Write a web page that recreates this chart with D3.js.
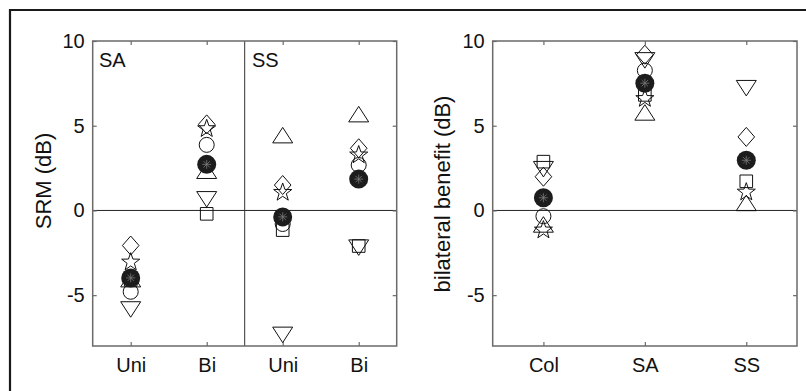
<!DOCTYPE html>
<html>
<head>
<meta charset="utf-8">
<script src="https://cdn.jsdelivr.net/npm/d3@7"></script>
<style>
  body { margin: 0; background: #fff; }
  text { font-family: "Liberation Sans", Arial, Helvetica, sans-serif; fill: #111; }
</style>
</head>
<body>
<script>

WIDTH = 806;
HEIGHT = 391;
TOP = 41;
BOTTOM = 346;
FRAME = "#6a6a6a";

// left panel: SRM, conditions SA-Uni, SA-Bi, SS-Uni, SS-Bi
var srmTicks = ["Uni", "Bi", "Uni", "Bi"];
var srmCircle   = [-4.8, 3.87, -0.8, 2.68];
var srmTriUp    = [-4.1, 2.3, 4.4, 5.64];
var srmTriDown  = [-5.8, 0.7, -7.3, -2.15];
var srmSquare   = [-4.1, -0.2, -1.16, -2.1];
var srmDiamond  = [-2.07, 5.08, 1.5, 3.67];
var srmStar     = [-3.05, 4.82, 1.06, 3.27];
var srmMean     = [-3.98, 2.72, -0.38, 1.85];

// right panel: bilateral benefit, conditions Col, SA, SS
var bbTicks = ["Col", "SA", "SS"];
var bbCircle   = [-0.34, 8.26, 2.96];
var bbTriUp    = [-0.87, 5.74, 0.4];
var bbTriDown  = [2.48, 8.9, 7.26];
var bbSquare   = [2.88, 6.82, 1.72];
var bbDiamond  = [1.99, 9.19, 4.34];
var bbStar     = [-1.16, 6.6, 1.08];
var bbMean     = [0.75, 7.51, 2.96];

var yTicks = [-5, 0, 5, 10];

function series(circle, triUp, triDown, square, diamond, star) {
    return [
        {shape: "circle", values: circle},
        {shape: "triUp", values: triUp},
        {shape: "triDown", values: triDown},
        {shape: "square", values: square},
        {shape: "diamond", values: diamond},
        {shape: "star", values: star}
    ];
}

function shapePath(shape) {
    var p = d3.path();
    if (shape == "circle") {
        p.arc(0, 0, 7.5, 0, 2 * Math.PI);
    } else if (shape == "triUp") {
        p.moveTo(0, -8.5); p.lineTo(10, 7); p.lineTo(-10, 7); p.closePath();
    } else if (shape == "triDown") {
        p.moveTo(0, 8.5); p.lineTo(10, -7); p.lineTo(-10, -7); p.closePath();
    } else if (shape == "square") {
        p.rect(-6.3, -6.3, 12.6, 12.6);
    } else if (shape == "diamond") {
        p.moveTo(0, -9.5); p.lineTo(8.3, 0); p.lineTo(0, 9.5); p.lineTo(-8.3, 0); p.closePath();
    } else if (shape == "star") {
        for (var i = 0; i < 10; i++) {
            var r = i % 2 ? 3.8 : 9.5;
            var a = -Math.PI / 2 + i * Math.PI / 5;
            if (i == 0) p.moveTo(r * Math.cos(a), r * Math.sin(a));
            else p.lineTo(r * Math.cos(a), r * Math.sin(a));
        }
        p.closePath();
    }
    return p.toString();
}

var svg = d3.select("body").append("svg")
    .attr("width", WIDTH)
    .attr("height", HEIGHT);

// figure frame (cropped: only top and left edges show)
svg.append("path")
    .attr("d", "M10,391V10H806")
    .attr("fill", "none")
    .attr("stroke", "#1a1a1a")
    .attr("stroke-width", 2.2);

var y = d3.scaleLinear()
    .domain([-8, 10])
    .range([BOTTOM, TOP]);

function panel(opts) {
    var x = d3.scaleLinear()
        .domain([0.5, opts.ticks.length + 0.5])
        .range([opts.left, opts.right]);

    var g = svg.append("g");

    // zero line
    g.append("line")
        .attr("x1", opts.left).attr("x2", opts.right)
        .attr("y1", y(0)).attr("y2", y(0))
        .attr("stroke", "#222").attr("stroke-width", 1);

    if (opts.divider) {
        g.append("line")
            .attr("x1", x(opts.divider)).attr("x2", x(opts.divider))
            .attr("y1", TOP).attr("y2", BOTTOM)
            .attr("stroke", "#333").attr("stroke-width", 1);
    }

    var xt = d3.range(1, opts.ticks.length + 1);

    g.append("g")
        .attr("transform", `translate(0,${BOTTOM})`)
        .call(d3.axisBottom(x).tickValues(xt).tickSizeInner(-4).tickSizeOuter(0).tickPadding(12)
            .tickFormat((d, i) => opts.ticks[i]));
    g.append("g")
        .attr("transform", `translate(0,${TOP})`)
        .call(d3.axisTop(x).tickValues(xt).tickSizeInner(-4).tickSizeOuter(0).tickFormat(""));
    g.append("g")
        .attr("transform", `translate(${opts.left},0)`)
        .call(d3.axisLeft(y).tickValues(yTicks).tickSizeInner(-4).tickSizeOuter(0).tickPadding(8)
            .tickFormat(d => String(d)));
    g.append("g")
        .attr("transform", `translate(${opts.right},0)`)
        .call(d3.axisRight(y).tickValues(yTicks).tickSizeInner(-4).tickSizeOuter(0).tickFormat(""));

    g.selectAll(".domain").remove();
    g.selectAll(".tick line").attr("stroke", FRAME).attr("stroke-width", 1.2);
    g.selectAll(".tick text")
        .attr("font-family", "Liberation Sans, Arial, sans-serif")
        .attr("font-size", 20)
        .attr("fill", "#111");

    g.append("rect")
        .attr("x", opts.left).attr("y", TOP)
        .attr("width", opts.right - opts.left).attr("height", BOTTOM - TOP)
        .attr("fill", "none")
        .attr("stroke", FRAME)
        .attr("stroke-width", 1.5);

    // y label
    g.append("text")
        .attr("transform", `translate(${opts.labelX},${opts.labelY}) rotate(-90)`)
        .attr("text-anchor", "middle")
        .attr("dy", "0.35em")
        .attr("font-size", 22)
        .text(opts.ylabel);

    // panel labels
    (opts.panelLabels || []).forEach(function(pl) {
        g.append("text")
            .attr("x", pl.x).attr("y", 67)
            .attr("font-size", 20)
            .text(pl.text);
    });

    // subject markers
    opts.series.forEach(function(s) {
        g.selectAll(null)
            .data(s.values)
            .enter().append("path")
            .attr("transform", (d, i) => `translate(${x(i + 1)},${y(d)})`)
            .attr("d", shapePath(s.shape))
            .attr("fill", "none")
            .attr("stroke", "#111")
            .attr("stroke-width", 1);
    });

    // mean markers: filled circle with grey asterisk
    var m = g.selectAll(null)
        .data(opts.mean)
        .enter().append("g")
        .attr("transform", (d, i) => `translate(${x(i + 1)},${y(d)})`);
    m.append("circle")
        .attr("r", 9.5)
        .attr("fill", "#1c1c1c");
    m.append("path")
        .attr("d", function() {
            var p = d3.path();
            for (var k = 0; k < 4; k++) {
                var a = k * Math.PI / 4;
                p.moveTo(-4.5 * Math.cos(a), -4.5 * Math.sin(a));
                p.lineTo(4.5 * Math.cos(a), 4.5 * Math.sin(a));
            }
            return p.toString();
        })
        .attr("stroke", "#7a7a7a")
        .attr("stroke-width", 0.8);
}

panel({
    left: 92.7, right: 396.7,
    ticks: srmTicks,
    divider: 2.5,
    ylabel: "SRM (dB)",
    labelX: 43, labelY: 181,
    panelLabels: [{x: 99, text: "SA"}, {x: 252, text: "SS"}],
    series: series(srmCircle, srmTriUp, srmTriDown, srmSquare, srmDiamond, srmStar),
    mean: srmMean
});

panel({
    left: 492.7, right: 797,
    ticks: bbTicks,
    ylabel: "bilateral benefit (dB)",
    labelX: 442, labelY: 194,
    series: series(bbCircle, bbTriUp, bbTriDown, bbSquare, bbDiamond, bbStar),
    mean: bbMean
});

</script>
</body>
</html>
